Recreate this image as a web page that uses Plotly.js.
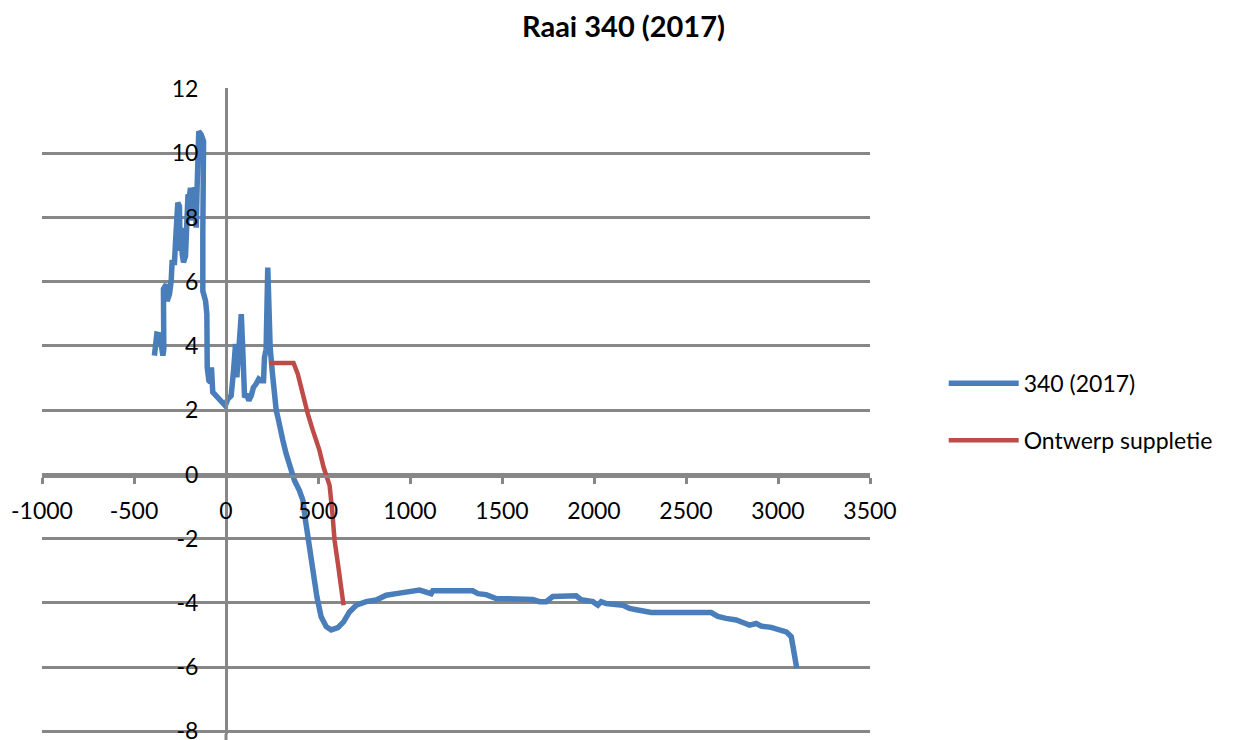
<!DOCTYPE html>
<html>
<head>
<meta charset="utf-8">
<script src="https://cdn.plot.ly/plotly-3.0.1.min.js"></script>
<style>html,body{margin:0;padding:0;background:#fff;}#chart{width:1247px;height:740px;}</style>
</head>
<body>
<div id="chart"></div>
<script>
const chartTitle = 'Raai 340 (2017)';
const seriesNames = ['340 (2017)', 'Ontwerp suppletie'];
const xTicks = [-1000, -500, 0, 500, 1000, 1500, 2000, 2500, 3000, 3500];
const yTicks = [-8, -6, -4, -2, 0, 2, 4, 6, 8, 10, 12];

const profileX = [-389, -379, -376, -361, -352, -343, -338, -340, -325, -320, -307, -298, -293, -280, -274, -262, -253, -249, -244, -238, -231, -220, -213, -207, -198, -193, -184, -178, -166, -162, -157, -151, -148, -135, -122, -126, -126, -111, -104, -102, -93, -84, -79, -72, -53, -35, -17, -4, 10, 28, 41, 52, 59, 74, 83, 91, 101, 113, 124, 137, 149, 164, 178, 191, 204, 209, 218, 227, 233, 240, 251, 258, 273, 282, 294, 309, 327, 349, 372, 399, 418, 432, 445, 463, 477, 494, 517, 545, 572, 608, 639, 671, 708, 762, 816, 871, 925, 979, 1052, 1115, 1124, 1341, 1369, 1414, 1468, 1667, 1704, 1740, 1776, 1903, 1930, 1994, 2021, 2039, 2066, 2157, 2193, 2238, 2292, 2311, 2637, 2673, 2718, 2773, 2809, 2845, 2882, 2909, 2963, 3012, 3045, 3072, 3084, 3102];
const profileY = [3.70, 4.06, 4.37, 4.35, 3.95, 3.70, 3.90, 5.77, 5.92, 5.40, 5.61, 6.02, 6.60, 6.60, 7.27, 8.46, 8.35, 6.96, 7.68, 6.85, 6.60, 6.80, 7.89, 8.66, 8.70, 8.92, 7.90, 8.92, 8.82, 7.68, 8.92, 10.16, 10.68, 10.58, 10.37, 7.50, 5.71, 5.40, 4.99, 3.33, 2.92, 2.87, 3.33, 2.56, 2.45, 2.30, 2.20, 2.14, 2.35, 2.45, 3.23, 4.06, 3.02, 4.40, 4.99, 3.90, 2.40, 2.50, 2.30, 2.45, 2.71, 2.82, 2.97, 2.92, 2.92, 3.64, 3.90, 6.44, 5.00, 3.95, 3.23, 2.71, 1.99, 1.78, 1.37, 1.06, 0.64, 0.23, -0.19, -0.50, -0.81, -1.43, -1.95, -2.57, -3.19, -3.81, -4.43, -4.74, -4.84, -4.77, -4.59, -4.28, -4.07, -3.96, -3.91, -3.76, -3.71, -3.66, -3.60, -3.71, -3.62, -3.62, -3.71, -3.74, -3.86, -3.89, -3.96, -3.96, -3.80, -3.78, -3.90, -3.96, -4.07, -3.96, -4.02, -4.07, -4.17, -4.22, -4.28, -4.30, -4.30, -4.42, -4.48, -4.53, -4.61, -4.69, -4.64, -4.72, -4.76, -4.82, -4.90, -5.05, -5.47, -6.03];

const designX = [236, 367, 390, 414, 445, 472, 508, 530, 563, 577, 590, 608, 626, 639];
const designY = [3.47, 3.47, 3.13, 2.56, 1.88, 1.37, 0.75, 0.23, -0.34, -1.12, -2.05, -2.77, -3.50, -4.07];

const FONT = 'Lato, "Open Sans", sans-serif';
const GRID = '#878787';

const traces = [
  {x: profileX, y: profileY, name: seriesNames[0], type: 'scatter', mode: 'lines',
   line: {color: '#4a7ebb', width: 5.5}, legendgroup: 'a'},
  {x: designX, y: designY, name: seriesNames[1], type: 'scatter', mode: 'lines',
   line: {color: '#be4b48', width: 4.5}, legendgroup: 'b'}
];

const layout = {
  width: 1247, height: 740,
  margin: {l: 42, r: 377, t: 88, b: 6, pad: 0},
  paper_bgcolor: '#ffffff', plot_bgcolor: '#ffffff',
  font: {family: FONT, size: 23, color: '#000000'},
  title: {text: '<b>' + chartTitle + '</b>', x: 0.5, xref: 'container', xanchor: 'center',
          y: 1 - 27 / 740, yref: 'container', yanchor: 'middle',
          font: {family: FONT, size: 29, color: '#000000'}},
  showlegend: true,
  legend: {x: 1.089, xanchor: 'left', y: 0.576, yanchor: 'top', yref: 'paper',
           font: {family: FONT, size: 23, color: '#000000'}, tracegroupgap: 24,
           itemwidth: 70, bgcolor: 'rgba(0,0,0,0)'},
  shapes: [
    {type: 'line', xref: 'x', yref: 'paper', x0: 0, x1: 0, y0: -0.02, y1: 0,
     line: {color: GRID, width: 3}, layer: 'below'}
  ],
  xaxis: {range: [-1000, 3500], tickvals: xTicks, ticktext: xTicks.map(String),
          showgrid: false, zeroline: false, showline: true, linecolor: GRID, linewidth: 3,
          ticks: 'outside', ticklen: 6, tickwidth: 3, tickcolor: GRID,
          anchor: 'free', position: 0.4, ticklabelstandoff: 8,
          tickfont: {family: FONT, size: 23, color: '#000000'}},
  yaxis: {range: [-8.08, 12.03], tickvals: yTicks, ticktext: yTicks.map(String),
          showgrid: true, gridcolor: GRID, gridwidth: 3, zeroline: false,
          showline: true, linecolor: GRID, linewidth: 3, ticks: '',
          anchor: 'free', position: 1000 / 4500, ticklabelstandoff: 22,
          ticklabeloverflow: 'allow',
          tickfont: {family: FONT, size: 23, color: '#000000'}}
};

Plotly.newPlot('chart', traces, layout, {displayModeBar: false, staticPlot: true});
</script>
</body>
</html>
